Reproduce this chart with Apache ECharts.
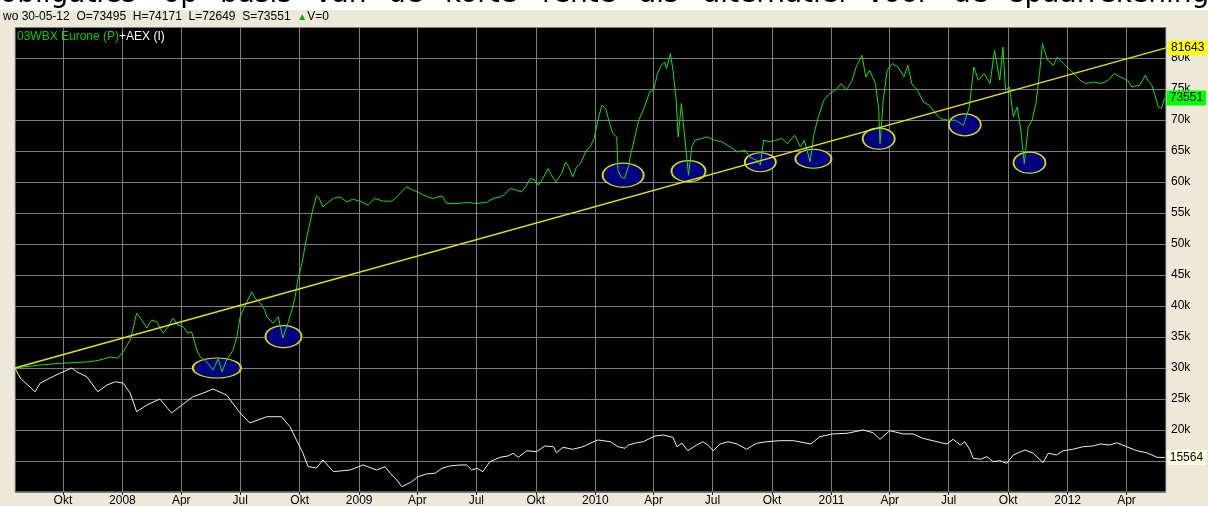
<!DOCTYPE html>
<html><head><meta charset="utf-8">
<script src="https://cdn.jsdelivr.net/npm/echarts@6/dist/echarts.min.js"></script>
<style>html,body{margin:0;padding:0;background:#ece9d8;}#c{width:1208px;height:506px;}</style>
</head><body><div id="c"></div>
<script>
// ---- data (day index counted from 2007-07-19) ----
const startDate = [2007, 6, 19];
const lastDay = 1779; // 2012-06-01
const tickDates = ['2007-10-01','2008-01-01','2008-04-01','2008-07-01','2008-10-01','2009-01-01','2009-04-01','2009-07-01','2009-10-01','2010-01-01','2010-04-01','2010-07-01','2010-10-01','2011-01-01','2011-04-01','2011-07-01','2011-10-01','2012-01-01','2012-04-01'];
const tickLabels = ['Okt','2008','Apr','Jul','Okt','2009','Apr','Jul','Okt','2010','Apr','Jul','Okt','2011','Apr','Jul','Okt','2012','Apr'];
const yLabelMin = 20000, yLabelMax = 80000;

const greenDays = [0,39,70,116,131,147,159,167,178,182,188,196,204,211,219,229,237,244,252,260,267,273,281,286,296,306,314,320,327,337,343,348,356,366,371,379,386,389,399,407,414,420,428,433,437,444,450,459,461,466,470,476,482,492,502,513,522,533,546,556,569,582,590,605,615,623,629,638,646,660,667,683,698,714,729,739,750,757,765,775,783,791,796,804,809,816,824,832,836,845,851,856,862,868,874,883,889,895,901,907,913,919,924,930,932,937,942,948,952,957,964,972,981,987,993,999,1004,1007,1013,1017,1022,1025,1030,1034,1041,1046,1051,1061,1070,1081,1093,1105,1117,1129,1135,1146,1152,1157,1167,1176,1185,1194,1205,1214,1220,1229,1235,1241,1250,1259,1268,1277,1285,1294,1300,1309,1315,1321,1330,1335,1337,1342,1348,1356,1365,1374,1380,1386,1395,1404,1413,1421,1430,1442,1454,1466,1475,1482,1489,1498,1507,1514,1522,1527,1531,1537,1543,1549,1554,1560,1566,1572,1578,1584,1588,1596,1605,1611,1620,1628,1637,1646,1655,1667,1679,1690,1699,1708,1720,1726,1738,1747,1751,1757,1762,1767,1772,1777];
const greenVals = [30000,30480,30750,31010,31280,31770,31600,32620,34500,36120,38860,37730,36440,37730,37450,35630,36650,38050,36920,36650,35630,35840,32890,31810,31010,29670,31440,29400,31280,32890,35040,38260,40150,42290,41270,40470,39340,38260,37240,38260,34830,36650,39340,41480,44170,47080,50620,54920,55780,57760,57390,55990,56540,57340,57600,56790,57230,56910,56260,57340,56910,56910,57600,59210,58680,58400,57990,57600,57340,57760,56540,56540,56700,56540,56700,57340,57600,57990,58950,58680,58400,59480,60560,60290,59480,60560,62180,60560,60020,61370,63240,62430,60820,62430,62980,65120,65660,67010,69960,72380,71850,69430,67820,67270,61900,60770,60560,62430,64590,66740,69960,71850,74520,74790,77490,78820,79360,78290,80710,78020,73180,67270,72650,68350,61100,65660,66740,67010,67270,66740,66460,65660,64850,65120,64040,63510,62710,66740,66460,66740,67010,66200,67540,65660,66740,63240,67820,70230,73180,74260,74790,75870,74790,76410,78550,80430,76940,78020,75870,71570,66200,73180,78020,79100,78550,76940,78820,75870,74790,72910,72380,71300,70230,69960,69960,69150,72100,78550,76410,77490,75870,81240,76410,81770,74790,75330,70490,72100,68880,62980,68880,69960,72650,78020,82320,79630,78820,80160,79100,78290,77490,76410,75870,76130,75870,76410,77490,76940,76410,75330,75600,77210,76410,75600,73990,72100,71890,73551];

const aexDays = [0,8,31,39,54,70,88,95,111,128,142,155,167,178,188,204,224,242,258,275,291,306,327,348,363,389,412,425,435,445,453,466,476,492,518,538,559,572,580,590,598,603,611,618,623,636,649,660,672,688,698,706,714,723,734,750,762,770,778,791,806,819,832,837,847,862,878,889,901,920,932,943,948,961,971,989,1002,1017,1023,1031,1040,1051,1063,1071,1079,1090,1102,1116,1131,1146,1162,1182,1203,1230,1244,1264,1286,1311,1326,1337,1352,1373,1388,1403,1425,1440,1450,1461,1468,1476,1481,1492,1502,1512,1522,1533,1543,1561,1574,1589,1597,1610,1620,1635,1651,1666,1677,1692,1703,1718,1734,1749,1765,1777];
const aexVals = [30000,28380,26170,27570,28380,29190,30000,29400,28590,26170,27250,27780,27570,25960,22950,24030,25000,22740,24030,25370,25960,26610,25640,22740,21130,22140,22140,20530,18390,16290,14090,13880,15170,13280,13550,14360,13550,14090,13020,11940,10860,11140,11510,12050,12470,12910,13020,13830,14200,14360,14360,13550,13830,13280,14890,15600,15810,16250,15600,16660,16500,17420,17310,16340,17210,16890,17310,17860,18390,18110,17310,17050,17580,17950,18110,19030,19190,18820,17310,17860,16660,17420,18110,17580,16660,17740,18110,17740,16890,17860,18110,18280,18280,17740,18920,19360,19470,20000,19570,18500,19890,19360,19360,18660,18110,17740,18500,17580,18110,16780,15440,15280,15700,14890,15050,14630,15970,16780,16250,14730,16250,15970,16660,16890,17310,17420,17740,17580,17950,17310,16660,16340,15600,15564];

const trendDays = [0, 1779];
const trendVals = [30000, 81643];

const dipDays = [312, 415, 940, 1041, 1152, 1234, 1335, 1468, 1568];
const dipVals = [30000, 35070, 61100, 61740, 63190, 63750, 66980, 69230, 63110];
const dipSizes = [[48,20],[36,22],[41,24],[34,21],[31,19],[36,19],[32,21],[32,22],[32,21]];

const pageWords = ['obligaties','op','basis','van','de','korte','rente','als','alternatief','voor','de','spaarrekening'];
const pageWordX = [0,163,220,315,388,445,542,639,703,867,953,1010];

// ---- build ----
const categories = [];
const t0 = Date.UTC(startDate[0], startDate[1], startDate[2]);
for (let i = 0; i <= lastDay; i++) categories.push(new Date(t0 + i * 864e5).toISOString().slice(0, 10));
const tickMap = {};
tickDates.forEach((d, i) => { tickMap[d] = tickLabels[i]; });
const isTick = (idx, val) => Object.prototype.hasOwnProperty.call(tickMap, val === undefined ? categories[idx] : val);
const zip = (a, b) => a.map((d, i) => [d, b[i]]);

const FONT = 'Liberation Sans';
const endLbl = (bg) => ({
  show: true, formatter: p => String(p.value[1]), distance: 2,
  color: '#000', backgroundColor: bg, padding: [2, 3, 1, 3],
  fontSize: 12, fontFamily: FONT
});

const wordGraphics = pageWords.map((w, i) => ({
  type: 'text', z: 1, x: pageWordX[i], y: -5,
  style: {text: w, font: '28px "DejaVu Sans"', fill: '#000', verticalAlign: 'middle', align: 'left'}
}));

const chart = echarts.init(document.getElementById('c'), null, {renderer: 'canvas'});
chart.setOption({
  animation: false,
  backgroundColor: '#ece9d8',
  grid: {left: 15, right: 42, top: 27, bottom: 14, show: true, backgroundColor: '#000',
         borderColor: '#b4b4b4', borderWidth: 1, outerBoundsMode: 'none', containLabel: false},
  xAxis: {
    type: 'category', data: categories, boundaryGap: false,
    axisLine: {show: false},
    axisTick: {show: true, interval: isTick, length: 3, lineStyle: {color: '#202020'}},
    axisLabel: {interval: isTick, formatter: v => tickMap[v] || '', margin: 3, color: '#000', fontSize: 12, fontFamily: FONT},
    splitLine: {show: true, interval: isTick, lineStyle: {color: '#7c7c7c', width: 1}}
  },
  yAxis: {
    type: 'value', position: 'right', min: 10000, max: 85000, interval: 5000,
    axisLine: {show: false}, axisTick: {show: false},
    axisLabel: {formatter: v => (v >= yLabelMin && v <= yLabelMax) ? (v / 1000) + 'k' : '', margin: 5, color: '#000', fontSize: 12, fontFamily: FONT},
    splitLine: {show: true, lineStyle: {color: '#7c7c7c', width: 1}}
  },
  series: [
    {type: 'scatter', z: 1, silent: true, data: zip(dipDays, dipVals), symbol: 'circle',
     symbolSize: (v, p) => dipSizes[p.dataIndex],
     itemStyle: {color: '#000080', borderColor: '#dede00', borderWidth: 1.5, opacity: 1}},
    {type: 'line', name: 'AEX (I)', z: 2, data: zip(aexDays, aexVals), showSymbol: false, silent: true,
     lineStyle: {color: '#f2f2d6', width: 1}, endLabel: endLbl('#ffffe1')},
    {type: 'line', name: '03WBX Eurone (P)', z: 3, data: zip(greenDays, greenVals), showSymbol: false, silent: true,
     lineStyle: {color: '#12e012', width: 1}, endLabel: endLbl('#00ff00')},
    {type: 'line', name: 'trend', z: 4, data: zip(trendDays, trendVals), showSymbol: false, silent: true,
     lineStyle: {color: '#e6e600', width: 1.3}, endLabel: endLbl('#ffff00')}
  ],
  graphic: [
    {type: 'rect', z: 0, shape: {x: 0, y: 0, width: 1208, height: 10}, style: {fill: '#ffffff'}},
    ...wordGraphics,
    {type: 'rect', z: 2, shape: {x: 0, y: 10, width: 1208, height: 17}, style: {fill: '#ece9d8'}},
    {type: 'text', z: 3, x: 3, y: 17, style: {
      text: '{t|wo 30-05-12  O=73495  H=74171  L=72649  S=73551  }{g|▲}{t|V=0}',
      verticalAlign: 'middle',
      rich: {t: {fontSize: 12, fontFamily: FONT, fill: '#000'}, g: {fontSize: 10, fontFamily: FONT, fill: '#00b000'}}}},
    {type: 'text', z: 100, x: 17, y: 37, style: {
      text: '{g|03WBX Eurone (P)}{w|+AEX (I)}', verticalAlign: 'middle',
      rich: {g: {fontSize: 12, fontFamily: FONT, fill: '#00d000'}, w: {fontSize: 12, fontFamily: FONT, fill: '#ffffff'}}}}
  ]
});
</script></body></html>
